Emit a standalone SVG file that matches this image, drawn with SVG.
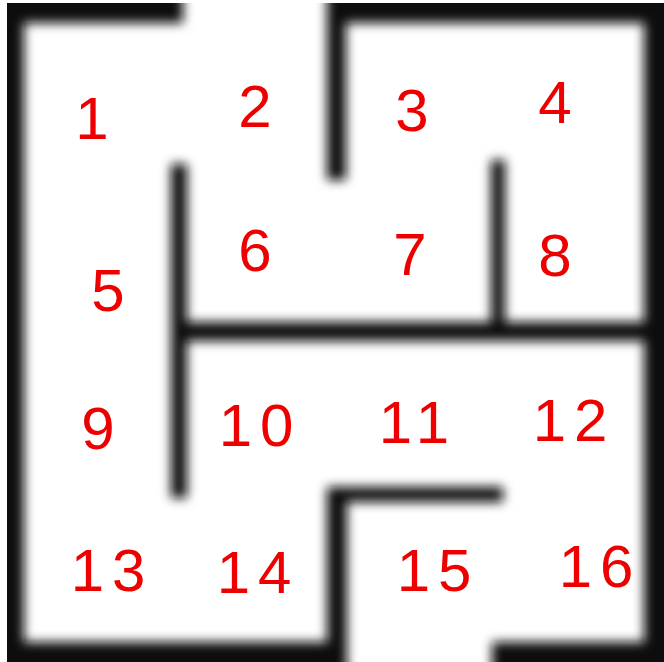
<svg xmlns="http://www.w3.org/2000/svg" width="664" height="662" viewBox="0 0 664 662">
  <style>
    .wall { fill: #0a0a0a; }
    .num { fill: #ee0000; font-family: "Liberation Sans", Arial, sans-serif; font-size: 60px; text-anchor: middle; dominant-baseline: central; }
    .two { letter-spacing: 8px; }
  </style>
  <defs>
    <filter id="blur" x="-20%" y="-20%" width="140%" height="140%">
      <feGaussianBlur stdDeviation="5.5"/>
    </filter>
    <clipPath id="frame">
      <rect x="7" y="3" width="657" height="659"/>
    </clipPath>
  </defs>
  <rect x="0" y="0" width="664" height="662" fill="#ffffff"/>
  <g id="maze" clip-path="url(#frame)">
    <g filter="url(#blur)">
      <!-- outer walls -->
      <rect class="wall" x="-30" y="-30" width="54" height="722"/>
      <rect class="wall" x="-30" y="-30" width="213" height="53"/>
      <rect class="wall" x="327" y="-30" width="367" height="53"/>
      <rect class="wall" x="644" y="-30" width="50" height="722"/>
      <rect class="wall" x="-30" y="642" width="374" height="50"/>
      <rect class="wall" x="492" y="642" width="202" height="50"/>
      <!-- inner walls -->
      <rect class="wall" x="327" y="-10" width="19" height="190"/>
      <rect class="wall" x="171" y="164" width="16" height="334"/>
      <rect class="wall" x="171" y="322" width="520" height="19"/>
      <rect class="wall" x="491" y="160" width="14" height="172"/>
      <rect class="wall" x="327" y="487" width="20" height="200"/>
      <rect class="wall" x="327" y="487" width="176" height="15"/>
    </g>
  </g>
  <g id="labels">
    <text class="num" x="92" y="118">1</text>
    <text class="num" x="255" y="106">2</text>
    <text class="num" x="412" y="110">3</text>
    <text class="num" x="555" y="102">4</text>
    <text class="num" x="108" y="290">5</text>
    <text class="num" x="255" y="250">6</text>
    <text class="num" x="410" y="254">7</text>
    <text class="num" x="555" y="255">8</text>
    <text class="num" x="98" y="428">9</text>
    <text class="num two" x="260" y="425">10</text>
    <text class="num two" x="418" y="422">11</text>
    <text class="num two" x="574" y="420">12</text>
    <text class="num two" x="112" y="570">13</text>
    <text class="num two" x="258" y="572">14</text>
    <text class="num two" x="438" y="570">15</text>
    <text class="num two" x="600" y="566">16</text>
  </g>
</svg>
